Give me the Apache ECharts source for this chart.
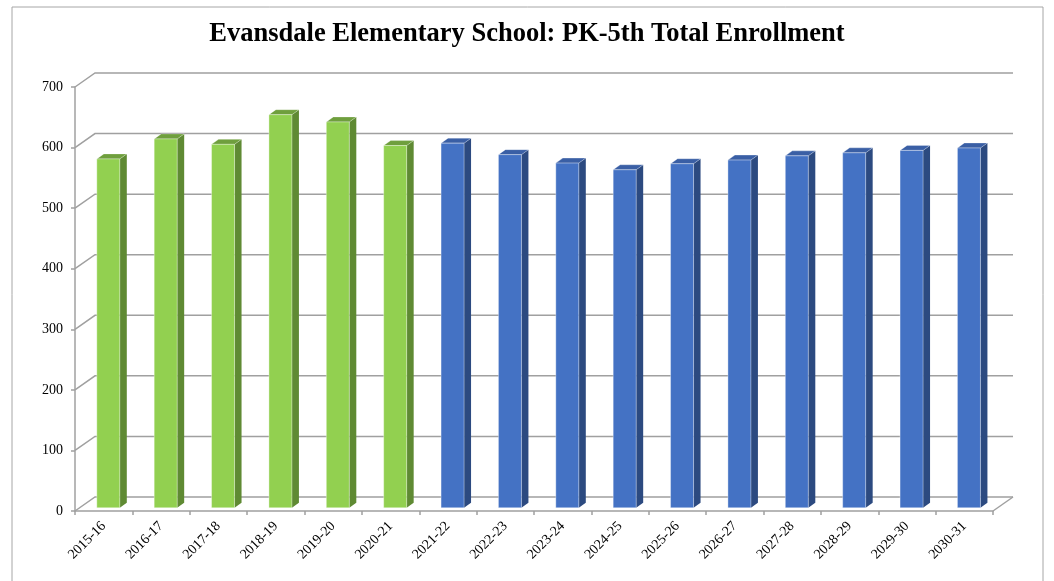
<!DOCTYPE html>
<html>
<head>
<meta charset="utf-8">
<script src="https://cdn.jsdelivr.net/npm/echarts@6/dist/echarts.min.js"></script>
<style>
  html, body { margin: 0; padding: 0; background: #fff; }
  #chart { width: 1054px; height: 581px; }
</style>
</head>
<body>
<div id="chart"></div>
<script>
var years = ['2015-16', '2016-17', '2017-18', '2018-19', '2019-20', '2020-21', '2021-22', '2022-23',
             '2023-24', '2024-25', '2025-26', '2026-27', '2027-28', '2028-29', '2029-30', '2030-31'];
// first six are actual counts, rest projected
var actual = [576, 609, 600, 649, 637, 598];
var projected = [602, 583, 569, 558, 568, 574, 581, 586, 590, 594];
var yTicks = [0, 100, 200, 300, 400, 500, 600, 700];

// 3d look
var DX = 20, DY = 14;        // back wall offset
var FACE_T = 3 / 13;         // depth of bar front face
var BAR_W = 23, BAR_DX = 7, BAR_DY = 5;

var actualData = actual.map(function (v, i) { return [i, v]; });
var projData = projected.map(function (v, i) { return [actual.length + i, v]; });

function barRender(front, side, top) {
    return function (params, api) {
        var c = api.coord([api.value(0), api.value(1)]);
        var b = api.coord([api.value(0), 0]);
        var ox = DX * FACE_T, oy = DY * FACE_T;
        var l = c[0] - BAR_W / 2 + ox, r = l + BAR_W;
        var t = c[1] - oy, bt = b[1] - oy;
        return {
            type: 'group',
            children: [
                { type: 'polygon', shape: { points: [[r, t], [r + BAR_DX, t - BAR_DY], [r + BAR_DX, bt - BAR_DY], [r, bt]] },
                  style: { fill: side } },
                { type: 'polygon', shape: { points: [[l, t], [l + BAR_DX, t - BAR_DY], [r + BAR_DX, t - BAR_DY], [r, t]] },
                  style: { fill: top, stroke: 'rgba(255,255,255,0.35)', lineWidth: 0.8 } },
                { type: 'rect', shape: { x: l, y: t, width: BAR_W, height: bt - t },
                  style: { fill: front, stroke: 'rgba(255,255,255,0.45)', lineWidth: 0.8 } }
            ]
        };
    };
}

var myChart = echarts.init(document.getElementById('chart'));
option = {
    animation: false,
    title: {
        text: 'Evansdale Elementary School: PK-5th Total Enrollment',
        left: 'center',
        top: 16,
        textStyle: { fontFamily: 'Liberation Serif', fontWeight: 'bold', fontSize: 26.5, color: '#000' }
    },
    graphic: [
        { type: 'rect', shape: { x: 12, y: 7, width: 1031, height: 600 },
          style: { fill: 'none', stroke: '#a6a6a6', lineWidth: 1 }, silent: true }
    ],
    grid: { left: 75, right: 61, top: 87, bottom: 70 },
    xAxis: {
        type: 'category',
        data: years,
        axisLine: { lineStyle: { color: '#a0a0a0', width: 1.5 } },
        axisTick: { show: true, length: 4, lineStyle: { color: '#a0a0a0', width: 1.5 } },
        axisLabel: { rotate: 45, interval: 0, margin: 13, fontFamily: 'Liberation Serif', fontSize: 14, color: '#000' },
        splitLine: { show: false }
    },
    yAxis: {
        type: 'value',
        min: 0, max: 700, interval: 100,
        axisLine: { show: true, lineStyle: { color: '#a0a0a0', width: 1.5 } },
        axisTick: { show: true, length: 4, lineStyle: { color: '#a0a0a0', width: 1.5 } },
        axisLabel: { margin: 12, fontFamily: 'Liberation Serif', fontSize: 14, color: '#000' },
        splitLine: { show: false }
    },
    series: [
        {
            name: 'walls',
            type: 'custom',
            silent: true,
            z: 1,
            data: yTicks.map(function (v) { return [0, v]; }),
            renderItem: function (params, api) {
                var cs = params.coordSys;
                var y = api.coord([0, api.value(1)])[1];
                var x0 = cs.x, x1 = cs.x + cs.width;
                var kids = [
                    { type: 'polyline', shape: { points: [[x0, y], [x0 + DX, y - DY], [x1 + DX, y - DY]] },
                      style: { fill: null, stroke: '#a0a0a0', lineWidth: 1.5 } }
                ];
                if (api.value(1) === 0) {
                    kids.push({ type: 'line', shape: { x1: x1, y1: y, x2: x1 + DX, y2: y - DY },
                                style: { stroke: '#a0a0a0', lineWidth: 1.5 } });
                }
                return { type: 'group', children: kids };
            }
        },
        {
            name: 'Actual',
            type: 'custom',
            z: 3,
            data: actualData,
            renderItem: barRender('#92d050', '#5f8a33', '#6f9f3d')
        },
        {
            name: 'Projected',
            type: 'custom',
            z: 3,
            data: projData,
            renderItem: barRender('#4472c4', '#2c4a80', '#3a5fa5')
        }
    ]
};
myChart.setOption(option);
</script>
</body>
</html>
